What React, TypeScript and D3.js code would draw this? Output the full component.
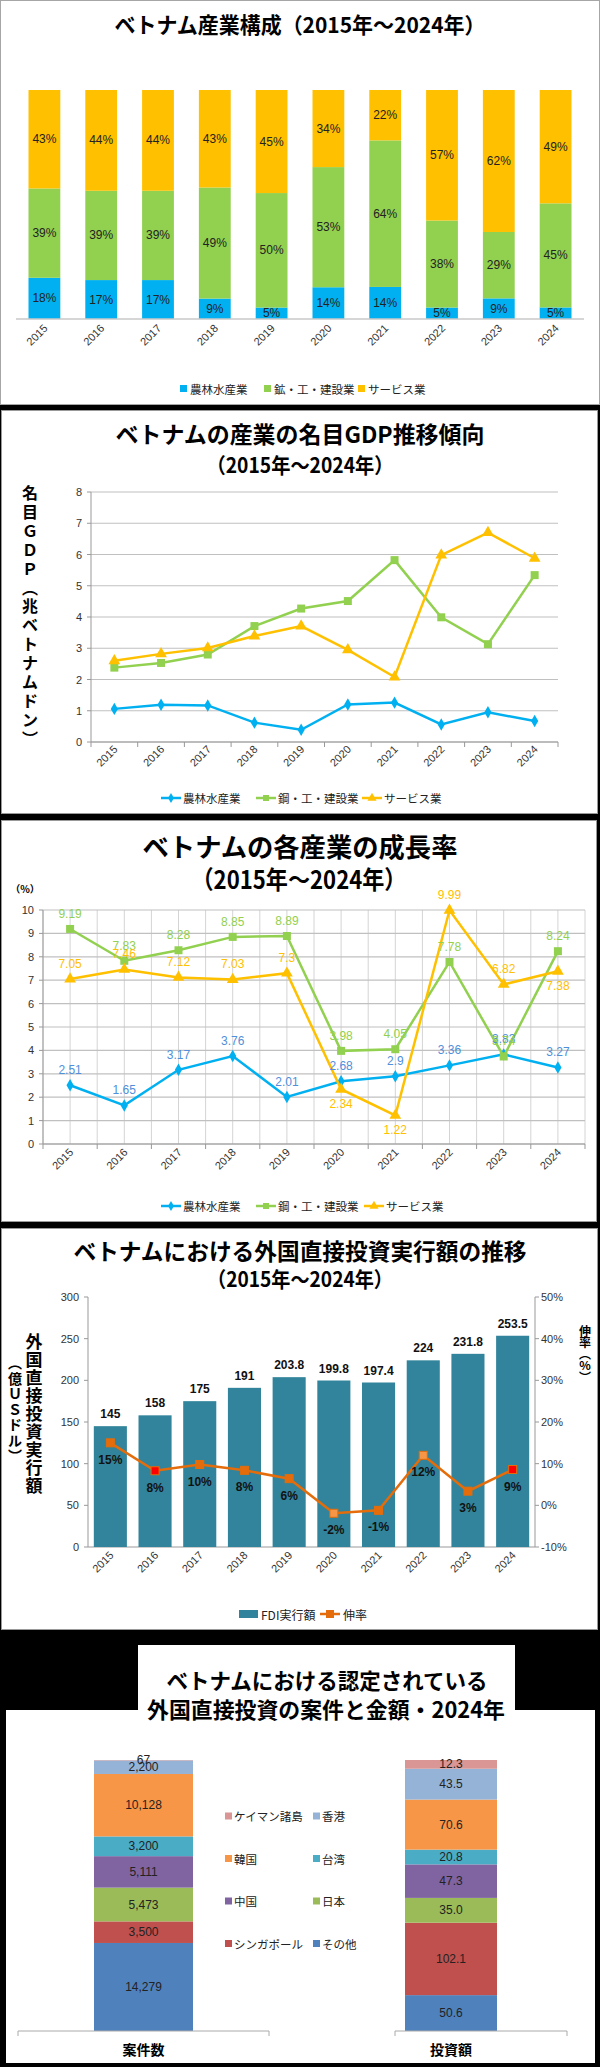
import React, { useRef, useEffect } from 'react';
import * as d3 from 'd3';

const years = ['2015', '2016', '2017', '2018', '2019', '2020', '2021', '2022', '2023', '2024'];

// 産業構成 (%)
const shareAgri = [18, 17, 17, 9, 5, 14, 14, 5, 9, 5];
const shareInd = [39, 39, 39, 49, 50, 53, 64, 38, 29, 45];
const shareServ = [43, 44, 44, 43, 45, 34, 22, 57, 62, 49];

// 名目GDP (兆ベトナムドン)
const gdpAgri = [1.06, 1.19, 1.17, 0.62, 0.39, 1.2, 1.26, 0.56, 0.95, 0.67];
const gdpInd = [2.38, 2.53, 2.8, 3.71, 4.27, 4.51, 5.82, 3.99, 3.13, 5.34];
const gdpServ = [2.6, 2.82, 3.01, 3.39, 3.71, 2.95, 2.08, 5.98, 6.7, 5.88];

// 成長率 (%)
const growAgri = [2.51, 1.65, 3.17, 3.76, 2.01, 2.68, 2.9, 3.36, 3.83, 3.27];
const growInd = [9.19, 7.83, 8.28, 8.85, 8.89, 3.98, 4.05, 7.78, 3.74, 8.24];
const growServ = [7.05, 7.46, 7.12, 7.03, 7.3, 2.34, 1.22, 9.99, 6.82, 7.38];

// FDI実行額 (億USドル) と伸率
const fdiAmount = [145, 158, 175, 191, 203.8, 199.8, 197.4, 224, 231.8, 253.5];
const fdiGrowth = [15, 8.3, 9.8, 8.4, 6.4, -1.9, -1.2, 12, 3.4, 8.6];
const fdiGrowthLabels = ['15%', '8%', '10%', '8%', '6%', '-2%', '-1%', '12%', '3%', '9%'];

// 認定FDI 2024年 (下から順)
const countries = ['その他', 'シンガポール', '日本', '中国', '台湾', '韓国', '香港', 'ケイマン諸島'];
const projectCounts = [14279, 3500, 5473, 5111, 3200, 10128, 2200, 67];
const investAmounts = [50.6, 102.1, 35.0, 47.3, 20.8, 70.6, 43.5, 12.3];
const approvedCats = ['案件数', '投資額'];

const W = 600;
const H = 2067;
const JP = '"Noto Sans CJK JP", "Noto Sans", sans-serif';
const NUM = '"Liberation Sans Narrow", "Liberation Sans", "DejaVu Sans Condensed", sans-serif';

const sectorNames1 = ['農林水産業', '鉱・工・建設業', 'サービス業'];
const sectorNames = ['農林水産業', '鋼・工・建設業', 'サービス業'];
const sectorColors = ['#00B0F0', '#92D050', '#FFC000'];
const growthLabelColors = ['#4F8FDB', '#92D050', '#FFC000'];
const countryColors = ['#4F81BD', '#C0504D', '#9BBB59', '#8064A2', '#4BACC6', '#F79646', '#95B3D7', '#D99694'];

function title(g, text, cx, cy, size, len?) {
  const t = g.append('text')
    .attr('x', cx).attr('y', cy)
    .attr('text-anchor', 'middle').attr('dominant-baseline', 'central')
    .attr('font-family', JP).attr('font-weight', 700).attr('font-size', size)
    .attr('fill', '#000')
    .text(text);
  if (len) t.attr('textLength', len).attr('lengthAdjust', 'spacingAndGlyphs');
}

function vtext(g, str, x, y0, step, size) {
  const chars = Array.from(str).map(c => (c === '（' ? '︵' : c === '）' ? '︶' : c));
  g.append('g').selectAll('text').data(chars).join('text')
    .attr('x', x).attr('y', (d, i) => y0 + i * step)
    .attr('text-anchor', 'middle').attr('dominant-baseline', 'central')
    .attr('font-family', JP).attr('font-weight', 700).attr('font-size', size)
    .text(d => d);
}

function yearLabels(g, x, y, size) {
  g.append('g').selectAll('text').data(years).join('text')
    .attr('transform', d => `translate(${x(d) + x.bandwidth() / 2 + 4},${y}) rotate(-45)`)
    .attr('text-anchor', 'end')
    .attr('font-family', NUM).attr('font-size', size).attr('fill', '#333')
    .text(d => d);
}

function leftTicks(g, y, ticks, x0, x1, fmt, grid) {
  if (grid) {
    g.append('g').selectAll('line').data(ticks).join('line')
      .attr('x1', x0).attr('x2', x1).attr('y1', d => y(d)).attr('y2', d => y(d))
      .attr('stroke', '#c0c0c0').attr('stroke-width', 1.2);
  }
  g.append('line').attr('x1', x0).attr('x2', x0).attr('y1', y.range()[0]).attr('y2', y.range()[1])
    .attr('stroke', '#999');
  g.append('g').selectAll('line').data(ticks).join('line')
    .attr('x1', x0 - 4).attr('x2', x0).attr('y1', d => y(d)).attr('y2', d => y(d)).attr('stroke', '#999');
  g.append('g').selectAll('text').data(ticks).join('text')
    .attr('x', x0 - 9).attr('y', d => y(d)).attr('text-anchor', 'end').attr('dominant-baseline', 'central')
    .attr('font-family', NUM).attr('font-size', 11).attr('fill', '#333')
    .text(fmt);
}

function bottomAxis(g, x, y0) {
  const [a, b] = x.range();
  g.append('line').attr('x1', a).attr('x2', b).attr('y1', y0).attr('y2', y0).attr('stroke', '#999');
  const bounds = years.map(d => x(d) - (x.step() - x.bandwidth()) / 2).concat([b]);
  g.append('g').selectAll('line').data(bounds).join('line')
    .attr('x1', d => d).attr('x2', d => d).attr('y1', y0).attr('y2', y0 + 5).attr('stroke', '#999');
}

function lineLegend(g, items, y) {
  items.forEach(it => {
    g.append('line').attr('x1', it.x).attr('x2', it.x + 20).attr('y1', y).attr('y2', y)
      .attr('stroke', it.color).attr('stroke-width', 2.5);
    g.append('path').attr('d', d3.symbol(it.symbol, it.size)()).attr('transform', `translate(${it.x + 10},${y})`)
      .attr('fill', it.color);
    g.append('text').attr('x', it.x + 22).attr('y', y).attr('dominant-baseline', 'central')
      .attr('font-family', JP).attr('font-size', 11.5).attr('fill', '#222').text(it.label);
  });
}

const symbols = [d3.symbolDiamond, d3.symbolSquare, d3.symbolTriangle];
const symbolSizes = [45, 64, 60];

function drawShare(g) {
  g.append('rect').attr('x', 0.5).attr('y', 0.5).attr('width', 599).attr('height', 404)
    .attr('fill', '#fff').attr('stroke', '#a6a6a6');
  title(g, 'ベトナム産業構成（2015年～2024年）', 300, 23, 21.5, 371);

  const rows = years.map((yr, i) => ({ year: yr, agri: shareAgri[i], ind: shareInd[i], serv: shareServ[i] }));
  const series = d3.stack().keys(['agri', 'ind', 'serv']).offset(d3.stackOffsetExpand)(rows);
  const x = d3.scaleBand().domain(years).range([16, 584]).paddingInner(0.44).paddingOuter(0.22);
  const y = d3.scaleLinear().domain([0, 1]).range([319, 90]);

  series.forEach((s, si) => {
    g.append('g').selectAll('rect').data(s).join('rect')
      .attr('x', d => x(d.data.year)).attr('y', d => y(d[1]))
      .attr('width', x.bandwidth()).attr('height', d => y(d[0]) - y(d[1]))
      .attr('fill', sectorColors[si]);
    g.append('g').selectAll('text').data(s).join('text')
      .attr('x', d => x(d.data.year) + x.bandwidth() / 2).attr('y', d => (y(d[0]) + y(d[1])) / 2)
      .attr('text-anchor', 'middle').attr('dominant-baseline', 'central')
      .attr('font-family', NUM).attr('font-size', 12).attr('fill', '#222')
      .text(d => d.data[s.key] + '%');
  });
  g.append('line').attr('x1', 16).attr('x2', 584).attr('y1', 319).attr('y2', 319).attr('stroke', '#c8c8c8').attr('stroke-width', 1.5);
  yearLabels(g, x, 329, 11);

  const lx = [180, 264, 358];
  sectorNames1.forEach((n, i) => {
    g.append('rect').attr('x', lx[i]).attr('y', 385).attr('width', 7).attr('height', 7).attr('fill', sectorColors[i]);
    g.append('text').attr('x', lx[i] + 10).attr('y', 389).attr('dominant-baseline', 'central')
      .attr('font-family', JP).attr('font-size', 11.5).attr('fill', '#222').text(n);
  });
}

function drawGdp(g) {
  g.append('rect').attr('x', 1.5).attr('y', 410.5).attr('width', 596).attr('height', 403)
    .attr('fill', '#fff').attr('stroke', '#999');
  title(g, 'ベトナムの産業の名目GDP推移傾向', 300, 433, 23, 369);
  title(g, '（2015年～2024年）', 300, 464, 21, 187);
  vtext(g, '名目ＧＤＰ（兆ベトナムドン）', 30, 492, 18.9, 16);

  const x = d3.scaleBand().domain(years).range([91, 558]);
  const y = d3.scaleLinear().domain([0, 8]).range([742, 492]);
  leftTicks(g, y, d3.range(0, 9), 91, 558, d => d, true);
  bottomAxis(g, x, 742);
  yearLabels(g, x, 750, 11);

  const cx = (d, i) => x(years[i]) + x.bandwidth() / 2;
  [gdpAgri, gdpInd, gdpServ].forEach((vals, si) => {
    g.append('path').attr('d', d3.line().x(cx).y(d => y(d))(vals))
      .attr('fill', 'none').attr('stroke', sectorColors[si]).attr('stroke-width', 2.5);
    g.append('g').selectAll('path').data(vals).join('path')
      .attr('d', d3.symbol(symbols[si], symbolSizes[si])())
      .attr('transform', (d, i) => `translate(${cx(d, i)},${y(d)})`)
      .attr('fill', sectorColors[si]);
  });

  lineLegend(g, [
    { x: 161, color: sectorColors[0], symbol: symbols[0], size: 30, label: sectorNames[0] },
    { x: 256, color: sectorColors[1], symbol: symbols[1], size: 36, label: sectorNames[1] },
    { x: 362, color: sectorColors[2], symbol: symbols[2], size: 36, label: sectorNames[2] },
  ], 798);
}

function drawGrowth(g) {
  g.append('rect').attr('x', 1.5).attr('y', 820.5).attr('width', 595).attr('height', 401)
    .attr('fill', '#fff').attr('stroke', '#999');
  title(g, 'ベトナムの各産業の成長率', 300, 845, 26, 315);
  title(g, '（2015年～2024年）', 299, 878, 25, 215);
  g.append('text').attr('x', 25).attr('y', 888).attr('text-anchor', 'middle').attr('dominant-baseline', 'central')
    .attr('font-family', JP).attr('font-size', 10).attr('font-weight', 700).text('（%）');

  const x = d3.scaleBand().domain(years).range([43, 585]);
  const y = d3.scaleLinear().domain([0, 10]).range([1144, 910]);
  const vgrid = d3.range(0, 21).map(k => 43 + (k * x.step()) / 2);
  g.append('g').selectAll('line').data(vgrid).join('line')
    .attr('x1', d => d).attr('x2', d => d).attr('y1', 910).attr('y2', 1144)
    .attr('stroke', '#d4d4d4');
  leftTicks(g, y, d3.range(0, 11), 43, 585, d => d, true);
  bottomAxis(g, x, 1144);
  yearLabels(g, x, 1153, 11);

  const cx = (d, i) => x(years[i]) + x.bandwidth() / 2;
  const below = [
    [],
    [],
    ['2020', '2021', '2024'],
  ];
  [growAgri, growInd, growServ].forEach((vals, si) => {
    g.append('path').attr('d', d3.line().x(cx).y(d => y(d))(vals))
      .attr('fill', 'none').attr('stroke', sectorColors[si]).attr('stroke-width', 2.5);
    g.append('g').selectAll('path').data(vals).join('path')
      .attr('d', d3.symbol(symbols[si], symbolSizes[si])())
      .attr('transform', (d, i) => `translate(${cx(d, i)},${y(d)})`)
      .attr('fill', sectorColors[si]);
  });
  [growAgri, growInd, growServ].forEach((vals, si) => {
    g.append('g').selectAll('text').data(vals).join('text')
      .attr('x', cx)
      .attr('y', (d, i) => y(d) + (below[si].includes(years[i]) ? 15 : -15))
      .attr('text-anchor', 'middle').attr('dominant-baseline', 'central')
      .attr('font-family', NUM).attr('font-size', 12).attr('fill', growthLabelColors[si])
      .text(d => String(d));
  });

  lineLegend(g, [
    { x: 161, color: sectorColors[0], symbol: symbols[0], size: 30, label: sectorNames[0] },
    { x: 256, color: sectorColors[1], symbol: symbols[1], size: 36, label: sectorNames[1] },
    { x: 364, color: sectorColors[2], symbol: symbols[2], size: 36, label: sectorNames[2] },
  ], 1206);
}

function drawFdi(g) {
  g.append('rect').attr('x', 1.5).attr('y', 1228.5).attr('width', 596).attr('height', 401)
    .attr('fill', '#fff').attr('stroke', '#999');
  title(g, 'ベトナムにおける外国直接投資実行額の推移', 300, 1250, 23, 453);
  title(g, '（2015年～2024年）', 300, 1278, 21, 186);

  const x = d3.scaleBand().domain(years).range([88, 535]).paddingInner(0.26).paddingOuter(0.13);
  const yL = d3.scaleLinear().domain([0, 300]).range([1547, 1297]);
  const yR = d3.scaleLinear().domain([-10, 50]).range([1547, 1297]);

  leftTicks(g, yL, d3.range(0, 301, 50), 88, 535, d => d, false);
  const rt = d3.range(-10, 51, 10);
  g.append('line').attr('x1', 535).attr('x2', 535).attr('y1', 1297).attr('y2', 1547).attr('stroke', '#999');
  g.append('g').selectAll('line').data(rt).join('line')
    .attr('x1', 535).attr('x2', 539).attr('y1', d => yR(d)).attr('y2', d => yR(d)).attr('stroke', '#999');
  g.append('g').selectAll('text').data(rt).join('text')
    .attr('x', 541).attr('y', d => yR(d)).attr('dominant-baseline', 'central')
    .attr('font-family', NUM).attr('font-size', 11).attr('fill', '#333').text(d => d + '%');
  g.append('line').attr('x1', 88).attr('x2', 535).attr('y1', 1547).attr('y2', 1547).attr('stroke', '#999');

  g.append('g').selectAll('rect').data(fdiAmount).join('rect')
    .attr('x', (d, i) => x(years[i])).attr('y', d => yL(d))
    .attr('width', x.bandwidth()).attr('height', d => yL(0) - yL(d))
    .attr('fill', '#31849B');
  g.append('g').selectAll('text').data(fdiAmount).join('text')
    .attr('x', (d, i) => x(years[i]) + x.bandwidth() / 2).attr('y', d => yL(d) - 8)
    .attr('text-anchor', 'middle')
    .attr('font-family', NUM).attr('font-size', 12).attr('font-weight', 700).attr('fill', '#111')
    .text(d => String(d));

  const cx = (d, i) => x(years[i]) + x.bandwidth() / 2;
  const markerFill = ['#E46C0A', '#FF0000', '#E46C0A', '#E46C0A', '#E46C0A', '#F79646', '#E46C0A', '#F79646', '#E46C0A', '#FF0000'];
  g.append('path').attr('d', d3.line().x(cx).y(d => yR(d))(fdiGrowth))
    .attr('fill', 'none').attr('stroke', '#E46C0A').attr('stroke-width', 2.5);
  g.append('g').selectAll('rect').data(fdiGrowth).join('rect')
    .attr('x', (d, i) => cx(d, i) - 4).attr('y', d => yR(d) - 4).attr('width', 8).attr('height', 8)
    .attr('fill', (d, i) => markerFill[i]).attr('stroke', '#E46C0A').attr('stroke-width', 1);
  g.append('g').selectAll('text').data(fdiGrowth).join('text')
    .attr('x', cx).attr('y', d => yR(d) + 17)
    .attr('text-anchor', 'middle').attr('dominant-baseline', 'central')
    .attr('font-family', NUM).attr('font-size', 12).attr('font-weight', 700).attr('fill', '#111')
    .text((d, i) => fdiGrowthLabels[i]);

  yearLabels(g, x, 1556, 11);
  vtext(g, '外国直接投資実行額', 34, 1340, 18.1, 17);
  vtext(g, '（億ＵＳドル）', 15, 1362, 15.5, 14);
  vtext(g, '伸率（%）', 585, 1330, 11.5, 12);

  g.append('rect').attr('x', 239).attr('y', 1610).attr('width', 19).attr('height', 8).attr('fill', '#31849B');
  g.append('text').attr('x', 261).attr('y', 1614).attr('dominant-baseline', 'central')
    .attr('font-family', JP).attr('font-size', 12).attr('fill', '#222').text('FDI実行額');
  g.append('line').attr('x1', 320).attr('x2', 340).attr('y1', 1614).attr('y2', 1614).attr('stroke', '#E46C0A').attr('stroke-width', 2.5);
  g.append('rect').attr('x', 326).attr('y', 1610).attr('width', 8).attr('height', 8).attr('fill', '#E46C0A');
  g.append('text').attr('x', 343).attr('y', 1614).attr('dominant-baseline', 'central')
    .attr('font-family', JP).attr('font-size', 12).attr('fill', '#222').text('伸率');
}

function drawApproved(g) {
  g.append('rect').attr('x', 138).attr('y', 1645).attr('width', 377).attr('height', 70).attr('fill', '#fff');
  g.append('rect').attr('x', 6).attr('y', 1710).attr('width', 589).attr('height', 353).attr('fill', '#fff');
  title(g, 'ベトナムにおける認定されている', 327, 1679, 21.5, 321);
  title(g, '外国直接投資の案件と金額・2024年', 326, 1708, 22, 358);

  const rows = [projectCounts, investAmounts].map((vals, ci) => {
    const r = { cat: approvedCats[ci] };
    countries.forEach((c, k) => { r[c] = vals[k]; });
    return r;
  });
  const series = d3.stack().keys(countries).offset(d3.stackOffsetExpand)(rows);
  const x = d3.scalePoint().domain(approvedCats).range([143.5, 451]);
  const y = d3.scaleLinear().domain([0, 1]).range([2031, 1760]);
  const bw = [99, 92];
  const fmts = [d3.format(','), d3.format('.1f')];

  series.forEach((s, si) => {
    g.append('g').selectAll('rect').data(s).join('rect')
      .attr('x', (d, i) => x(d.data.cat) - bw[i] / 2).attr('y', d => y(d[1]))
      .attr('width', (d, i) => bw[i]).attr('height', d => y(d[0]) - y(d[1]))
      .attr('fill', countryColors[si]);
  });
  series.forEach(s => {
    g.append('g').selectAll('text').data(s).join('text')
      .attr('x', d => x(d.data.cat)).attr('y', d => (y(d[0]) + y(d[1])) / 2)
      .attr('text-anchor', 'middle').attr('dominant-baseline', 'central')
      .attr('font-family', NUM).attr('font-size', 12).attr('fill', '#222')
      .text((d, i) => fmts[i](d.data[s.key]));
  });

  const axes = [[18, 269], [395, 567]];
  axes.forEach(([a, b], i) => {
    g.append('line').attr('x1', a).attr('x2', b).attr('y1', 2031).attr('y2', 2031).attr('stroke', '#aaa');
    g.append('line').attr('x1', a).attr('x2', a).attr('y1', 2031).attr('y2', 2036).attr('stroke', '#aaa');
    g.append('line').attr('x1', b).attr('x2', b).attr('y1', 2031).attr('y2', 2036).attr('stroke', '#aaa');
    g.append('text').attr('x', x(approvedCats[i])).attr('y', 2049).attr('text-anchor', 'middle')
      .attr('dominant-baseline', 'central').attr('font-family', JP).attr('font-weight', 700)
      .attr('font-size', 14).text(approvedCats[i]);
  });

  const order = countries.map((c, k) => k).reverse();
  order.forEach((k, j) => {
    const lx = j % 2 === 0 ? 225 : 313;
    const ly = 1816 + Math.floor(j / 2) * 42.5;
    g.append('rect').attr('x', lx).attr('y', ly - 3.5).attr('width', 7).attr('height', 7).attr('fill', countryColors[k]);
    g.append('text').attr('x', lx + 9).attr('y', ly).attr('dominant-baseline', 'central')
      .attr('font-family', JP).attr('font-size', 11.5).attr('fill', '#222').text(countries[k]);
  });
}

const App = () => {
  const svgRef = useRef(null);

  useEffect(() => {
    const svg = d3.select(svgRef.current);
    svg.selectAll('*').remove();
    svg.append('rect').attr('width', W).attr('height', H).attr('fill', '#000');
    drawShare(svg.append('g'));
    drawGdp(svg.append('g'));
    drawGrowth(svg.append('g'));
    drawFdi(svg.append('g'));
    drawApproved(svg.append('g'));
  }, []);

  return (
    <div style={{ position: 'absolute', left: 0, top: 0 }}>
      <svg ref={svgRef} width={W} height={H} style={{ display: 'block' }}></svg>
    </div>
  );
};

export default App;
